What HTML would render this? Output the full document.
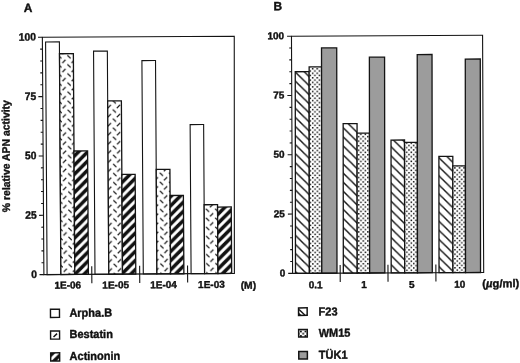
<!DOCTYPE html>
<html lang="en"><head><meta charset="utf-8"><title>APN activity</title>
<style>html,body{margin:0;padding:0;background:#fff}svg{display:block;will-change:transform}text{font-family:"Liberation Sans",sans-serif;font-weight:bold;fill:#111;stroke:#111;stroke-linejoin:round}</style>
</head><body>
<svg width="520" height="363" viewBox="0 0 520 363">
<rect x="0" y="0" width="520" height="363" fill="#fff"/>
<defs>
<pattern id="pBest0" patternUnits="userSpaceOnUse" width="9.17" height="9.08" patternTransform="translate(61.71 68.23)"><rect width="9.17" height="9.08" fill="#fff"/><path d="M0.69 3.77L3.89 0.77M5.78 5.31L8.98 8.31" stroke="#141414" stroke-width="1.2" fill="none"/></pattern>
<pattern id="pAct0" patternUnits="userSpaceOnUse" width="9.17" height="9.08" patternTransform="translate(73.38 211)"><rect width="9.17" height="9.08" fill="#fff"/><path d="M0 -11.53L9.17 -20.61V-15.71L0 -6.63ZM0 -2.45L9.17 -11.53V-6.63L0 2.45ZM0 6.63L9.17 -2.45V2.45L0 11.53ZM0 15.71L9.17 6.63V11.53L0 20.61Z" fill="#111"/></pattern>
<pattern id="pF0" patternUnits="userSpaceOnUse" width="9.17" height="9.08" patternTransform="translate(294.35 182.24)"><rect width="9.17" height="9.08" fill="#fff"/><path d="M-9.17 -9.08L18.34 18.16M-9.17 0L9.17 18.16M0 -9.08L18.34 9.08" stroke="#141414" stroke-width="1.45" fill="none"/></pattern>
<pattern id="pW0" patternUnits="userSpaceOnUse" width="4.585" height="4.54" patternTransform="translate(310.82 105.52)"><rect width="4.585" height="4.54" fill="#fff"/><rect x="0" y="0" width="1.5" height="1.5" fill="#111"/><rect x="2.2925" y="2.27" width="1.5" height="1.5" fill="#111"/></pattern>
<pattern id="pBest1" patternUnits="userSpaceOnUse" width="9.17" height="9.08" patternTransform="translate(60.91 68.23)"><rect width="9.17" height="9.08" fill="#fff"/><path d="M0.69 3.77L3.89 0.77M5.78 5.31L8.98 8.31" stroke="#141414" stroke-width="1.2" fill="none"/></pattern>
<pattern id="pAct1" patternUnits="userSpaceOnUse" width="9.17" height="9.08" patternTransform="translate(73.38 212.1)"><rect width="9.17" height="9.08" fill="#fff"/><path d="M0 -11.53L9.17 -20.61V-15.71L0 -6.63ZM0 -2.45L9.17 -11.53V-6.63L0 2.45ZM0 6.63L9.17 -2.45V2.45L0 11.53ZM0 15.71L9.17 6.63V11.53L0 20.61Z" fill="#111"/></pattern>
<pattern id="pF1" patternUnits="userSpaceOnUse" width="9.17" height="9.08" patternTransform="translate(294.35 181.74)"><rect width="9.17" height="9.08" fill="#fff"/><path d="M-9.17 -9.08L18.34 18.16M-9.17 0L9.17 18.16M0 -9.08L18.34 9.08" stroke="#141414" stroke-width="1.45" fill="none"/></pattern>
<pattern id="pW1" patternUnits="userSpaceOnUse" width="4.585" height="4.54" patternTransform="translate(310.82 105.52)"><rect width="4.585" height="4.54" fill="#fff"/><rect x="0" y="0" width="1.5" height="1.5" fill="#111"/><rect x="2.2925" y="2.27" width="1.5" height="1.5" fill="#111"/></pattern>
<pattern id="pBest2" patternUnits="userSpaceOnUse" width="9.17" height="9.08" patternTransform="translate(61.71 68.23)"><rect width="9.17" height="9.08" fill="#fff"/><path d="M0.69 3.77L3.89 0.77M5.78 5.31L8.98 8.31" stroke="#141414" stroke-width="1.2" fill="none"/></pattern>
<pattern id="pAct2" patternUnits="userSpaceOnUse" width="9.17" height="9.08" patternTransform="translate(73.38 211.1)"><rect width="9.17" height="9.08" fill="#fff"/><path d="M0 -11.53L9.17 -20.61V-15.71L0 -6.63ZM0 -2.45L9.17 -11.53V-6.63L0 2.45ZM0 6.63L9.17 -2.45V2.45L0 11.53ZM0 15.71L9.17 6.63V11.53L0 20.61Z" fill="#111"/></pattern>
<pattern id="pF2" patternUnits="userSpaceOnUse" width="9.17" height="9.08" patternTransform="translate(294.35 180.84)"><rect width="9.17" height="9.08" fill="#fff"/><path d="M-9.17 -9.08L18.34 18.16M-9.17 0L9.17 18.16M0 -9.08L18.34 9.08" stroke="#141414" stroke-width="1.45" fill="none"/></pattern>
<pattern id="pW2" patternUnits="userSpaceOnUse" width="4.585" height="4.54" patternTransform="translate(310.82 105.52)"><rect width="4.585" height="4.54" fill="#fff"/><rect x="0" y="0" width="1.5" height="1.5" fill="#111"/><rect x="2.2925" y="2.27" width="1.5" height="1.5" fill="#111"/></pattern>
<pattern id="pBest3" patternUnits="userSpaceOnUse" width="9.17" height="9.08" patternTransform="translate(61.71 68.23)"><rect width="9.17" height="9.08" fill="#fff"/><path d="M0.69 3.77L3.89 0.77M5.78 5.31L8.98 8.31" stroke="#141414" stroke-width="1.2" fill="none"/></pattern>
<pattern id="pAct3" patternUnits="userSpaceOnUse" width="9.17" height="9.08" patternTransform="translate(73.38 212.2)"><rect width="9.17" height="9.08" fill="#fff"/><path d="M0 -11.53L9.17 -20.61V-15.71L0 -6.63ZM0 -2.45L9.17 -11.53V-6.63L0 2.45ZM0 6.63L9.17 -2.45V2.45L0 11.53ZM0 15.71L9.17 6.63V11.53L0 20.61Z" fill="#111"/></pattern>
<pattern id="pF3" patternUnits="userSpaceOnUse" width="9.17" height="9.08" patternTransform="translate(294.35 180.94)"><rect width="9.17" height="9.08" fill="#fff"/><path d="M-9.17 -9.08L18.34 18.16M-9.17 0L9.17 18.16M0 -9.08L18.34 9.08" stroke="#141414" stroke-width="1.45" fill="none"/></pattern>
<pattern id="pW3" patternUnits="userSpaceOnUse" width="4.585" height="4.54" patternTransform="translate(310.82 105.52)"><rect width="4.585" height="4.54" fill="#fff"/><rect x="0" y="0" width="1.5" height="1.5" fill="#111"/><rect x="2.2925" y="2.27" width="1.5" height="1.5" fill="#111"/></pattern>
<pattern id="pActL" patternUnits="userSpaceOnUse" width="9.17" height="9.08" patternTransform="translate(51.4 353.1)"><rect width="9.17" height="9.08" fill="#fff"/><path d="M0 -11.53L9.17 -20.61V-15.71L0 -6.63ZM0 -2.45L9.17 -11.53V-6.63L0 2.45ZM0 6.63L9.17 -2.45V2.45L0 11.53ZM0 15.71L9.17 6.63V11.53L0 20.61Z" fill="#111"/></pattern>
<pattern id="pWL" patternUnits="userSpaceOnUse" width="4.585" height="4.54" patternTransform="translate(298.4 332)"><rect width="4.585" height="4.54" fill="#fff"/><rect x="0" y="0" width="1.8" height="1.8" fill="#111"/><rect x="2.2925" y="2.27" width="1.8" height="1.8" fill="#111"/></pattern>
</defs>
<g transform="rotate(-0.27)">
<g transform="translate(0 0.35) rotate(-0.1 42.6 274.5)">
<rect x="45.8" y="41.85" width="13.8" height="232.65" fill="#fff" stroke="#141414" stroke-width="1.1"/>
<rect x="59.6" y="53.72" width="13.9" height="220.78" fill="url(#pBest0)" stroke="#141414" stroke-width="1.3"/>
<rect x="73.5" y="151.05" width="13.6" height="123.45" fill="url(#pAct0)" stroke="#141414" stroke-width="1.3"/>
<rect x="93.7" y="51.34" width="13.8" height="223.16" fill="#fff" stroke="#141414" stroke-width="1.1"/>
<rect x="107.5" y="101.2" width="13.7" height="173.3" fill="url(#pBest1)" stroke="#141414" stroke-width="1.3"/>
<rect x="121.2" y="174.79" width="13.3" height="99.71" fill="url(#pAct1)" stroke="#141414" stroke-width="1.3"/>
<rect x="142" y="61.08" width="13.6" height="213.42" fill="#fff" stroke="#141414" stroke-width="1.1"/>
<rect x="155.6" y="170.04" width="13.7" height="104.46" fill="url(#pBest2)" stroke="#141414" stroke-width="1.3"/>
<rect x="169.3" y="196.16" width="13.3" height="78.34" fill="url(#pAct2)" stroke="#141414" stroke-width="1.3"/>
<rect x="189.8" y="125.41" width="13.5" height="149.09" fill="#fff" stroke="#141414" stroke-width="1.1"/>
<rect x="203.3" y="205.65" width="13.4" height="68.85" fill="url(#pBest3)" stroke="#141414" stroke-width="1.3"/>
<rect x="216.7" y="208.03" width="13.7" height="66.47" fill="url(#pAct3)" stroke="#141414" stroke-width="1.3"/>
<path d="M42.6 37.1L234.5 37.4L233.1 274.5H42.6Z" fill="none" stroke="#141414" stroke-width="1.1"/>
<path d="M38.2 274.5H42.6M40.3 262.63H42.6M40.3 250.76H42.6M40.3 238.89H42.6M40.3 227.02H42.6M38.2 215.15H42.6M40.3 203.28H42.6M40.3 191.41H42.6M40.3 179.54H42.6M40.3 167.67H42.6M38.2 155.8H42.6M40.3 143.93H42.6M40.3 132.06H42.6M40.3 120.19H42.6M40.3 108.32H42.6M38.2 96.45H42.6M40.3 84.58H42.6M40.3 72.71H42.6M40.3 60.84H42.6M40.3 48.97H42.6M38.2 37.1H42.6M90.5 266.3V283.4M138.4 266.3V283.4M186.3 266.3V283.4" stroke="#141414" stroke-width="1.1" fill="none"/>
</g>
<text transform="translate(35.7 278.15) scale(0.95 1)" font-size="10.8" text-anchor="end" stroke-width="0.4">0</text>
<text transform="translate(35.7 218.8) scale(0.95 1)" font-size="10.8" text-anchor="end" stroke-width="0.4">25</text>
<text transform="translate(35.7 159.45) scale(0.95 1)" font-size="10.8" text-anchor="end" stroke-width="0.4">50</text>
<text transform="translate(35.7 100.1) scale(0.95 1)" font-size="10.8" text-anchor="end" stroke-width="0.4">75</text>
<text transform="translate(35.7 40.75) scale(0.95 1)" font-size="10.8" text-anchor="end" stroke-width="0.4">100</text>
<text transform="translate(66.4 288.9)" font-size="10" text-anchor="middle" stroke-width="0.4">1E-06</text>
<text transform="translate(114.3 288.9)" font-size="10" text-anchor="middle" stroke-width="0.4">1E-05</text>
<text transform="translate(162.2 288.9)" font-size="10" text-anchor="middle" stroke-width="0.4">1E-04</text>
<text transform="translate(210.1 288.9)" font-size="10" text-anchor="middle" stroke-width="0.4">1E-03</text>
<text transform="translate(239.3 289.9)" font-size="10.3" stroke-width="0.4">(M)</text>
<g transform="translate(0 0.25) rotate(0 291.3 274.5)">
<g transform="translate(0 274.5) skewX(-0.2) translate(0 -274.5)">
<rect x="294.2" y="72.88" width="13.9" height="201.62" fill="url(#pF0)" stroke="#141414" stroke-width="1.3"/>
<rect x="308.1" y="68.14" width="12.4" height="206.36" fill="url(#pW0)" stroke="#141414" stroke-width="1.3"/>
<rect x="320.5" y="49.16" width="15.2" height="225.34" fill="#9c9c9c" stroke="#141414" stroke-width="1.3"/>
<rect x="342.05" y="125.06" width="13.9" height="149.44" fill="url(#pF1)" stroke="#141414" stroke-width="1.3"/>
<rect x="355.95" y="134.55" width="12.4" height="139.95" fill="url(#pW1)" stroke="#141414" stroke-width="1.3"/>
<rect x="368.35" y="58.65" width="15.2" height="215.85" fill="#9c9c9c" stroke="#141414" stroke-width="1.3"/>
<rect x="389.9" y="141.67" width="13.5" height="132.83" fill="url(#pF2)" stroke="#141414" stroke-width="1.3"/>
<rect x="403.4" y="144.04" width="12.8" height="130.46" fill="url(#pW2)" stroke="#141414" stroke-width="1.3"/>
<rect x="416.2" y="56.28" width="14.8" height="218.22" fill="#9c9c9c" stroke="#141414" stroke-width="1.3"/>
<rect x="437.75" y="158.27" width="13.9" height="116.23" fill="url(#pF3)" stroke="#141414" stroke-width="1.3"/>
<rect x="451.65" y="167.76" width="12.6" height="106.74" fill="url(#pW3)" stroke="#141414" stroke-width="1.3"/>
<rect x="464.25" y="61.02" width="15" height="213.48" fill="#9c9c9c" stroke="#141414" stroke-width="1.3"/>
</g>
<path d="M291.3 37.3L482.4 37.3L482.4 274.5H291.3Z" fill="none" stroke="#141414" stroke-width="1.1"/>
<path d="M286.9 274.5H291.3M289 262.64H291.3M289 250.78H291.3M289 238.92H291.3M289 227.06H291.3M286.9 215.2H291.3M289 203.34H291.3M289 191.48H291.3M289 179.62H291.3M289 167.76H291.3M286.9 155.9H291.3M289 144.04H291.3M289 132.18H291.3M289 120.32H291.3M289 108.46H291.3M286.9 96.6H291.3M289 84.74H291.3M289 72.88H291.3M289 61.02H291.3M289 49.16H291.3M286.9 37.3H291.3M338.9 266.3V283.4M386.7 266.3V283.4M434.6 266.3V283.4" stroke="#141414" stroke-width="1.1" fill="none"/>
</g>
<text transform="translate(283.9 277.75)" font-size="10" text-anchor="end" stroke-width="0.4">0</text>
<text transform="translate(283.9 218.45)" font-size="10" text-anchor="end" stroke-width="0.4">25</text>
<text transform="translate(283.9 159.15)" font-size="10" text-anchor="end" stroke-width="0.4">50</text>
<text transform="translate(283.9 99.85)" font-size="10" text-anchor="end" stroke-width="0.4">75</text>
<text transform="translate(283.9 40.55)" font-size="10" text-anchor="end" stroke-width="0.4">100</text>
<text transform="translate(314.3 289.8)" font-size="10" text-anchor="middle" stroke-width="0.4">0.1</text>
<text transform="translate(362.6 289.8)" font-size="10" text-anchor="middle" stroke-width="0.4">1</text>
<text transform="translate(410.5 289.8)" font-size="10" text-anchor="middle" stroke-width="0.4">5</text>
<text transform="translate(458.4 289.8)" font-size="10" text-anchor="middle" stroke-width="0.4">10</text>
<text transform="translate(481 289.5)" font-size="11.2" stroke-width="0.4">(<tspan font-style="italic">µ</tspan>g/ml)</text>
<text transform="translate(23.6 12.2)" font-size="12" stroke-width="0.4">A</text>
<text transform="translate(273.4 11.6)" font-size="12" stroke-width="0.4">B</text>
<text transform="translate(9 156.2) rotate(-90) scale(0.957 1)" font-size="10.9" text-anchor="middle" stroke-width="0.4">% relative APN activity</text>
<rect x="49.0" y="309.5" width="9.0" height="8.2" fill="#fff" stroke="#141414" stroke-width="1.4"/>
<text transform="translate(67.9 317.1) scale(0.953 1)" font-size="11.55" stroke-width="0.4">Arpha.B</text>
<rect x="297.1" y="309.3" width="8.6" height="7.5" fill="#fff" stroke="#141414" stroke-width="1.5"/>
<path d="M297.1 313.9L300.5 316.8H297.1Z" fill="#141414"/>
<path d="M297.6 310.9L303.3 316.4" stroke="#141414" stroke-width="1.4"/>
<text transform="translate(317.1 317.1) scale(0.953 1)" font-size="11.55" stroke-width="0.4">F23</text>
<rect x="49.0" y="331.2" width="9.0" height="8.2" fill="#fff" stroke="#141414" stroke-width="1.4"/>
<path d="M51.9 337.2L55.5 333.9" stroke="#141414" stroke-width="1.5"/>
<text transform="translate(67.9 338.4) scale(0.953 1)" font-size="11.55" stroke-width="0.4">Bestatin</text>
<rect x="297.1" y="331" width="8.6" height="7.5" fill="url(#pWL)" stroke="#141414" stroke-width="1.5"/>
<text transform="translate(317.1 338.4) scale(0.953 1)" font-size="11.55" stroke-width="0.4">WM15</text>
<rect x="49.0" y="353.1" width="9.0" height="8.2" fill="url(#pActL)" stroke="#141414" stroke-width="1.4"/>
<text transform="translate(67.9 360.3) scale(0.953 1)" font-size="11.55" stroke-width="0.4">Actinonin</text>
<rect x="297.1" y="352.9" width="8.6" height="7.5" fill="#9c9c9c" stroke="#141414" stroke-width="1.5"/>
<text transform="translate(317.1 360.3) scale(0.953 1)" font-size="11.55" stroke-width="0.4">TÜK1</text>
</g>
</svg>
</body></html>
